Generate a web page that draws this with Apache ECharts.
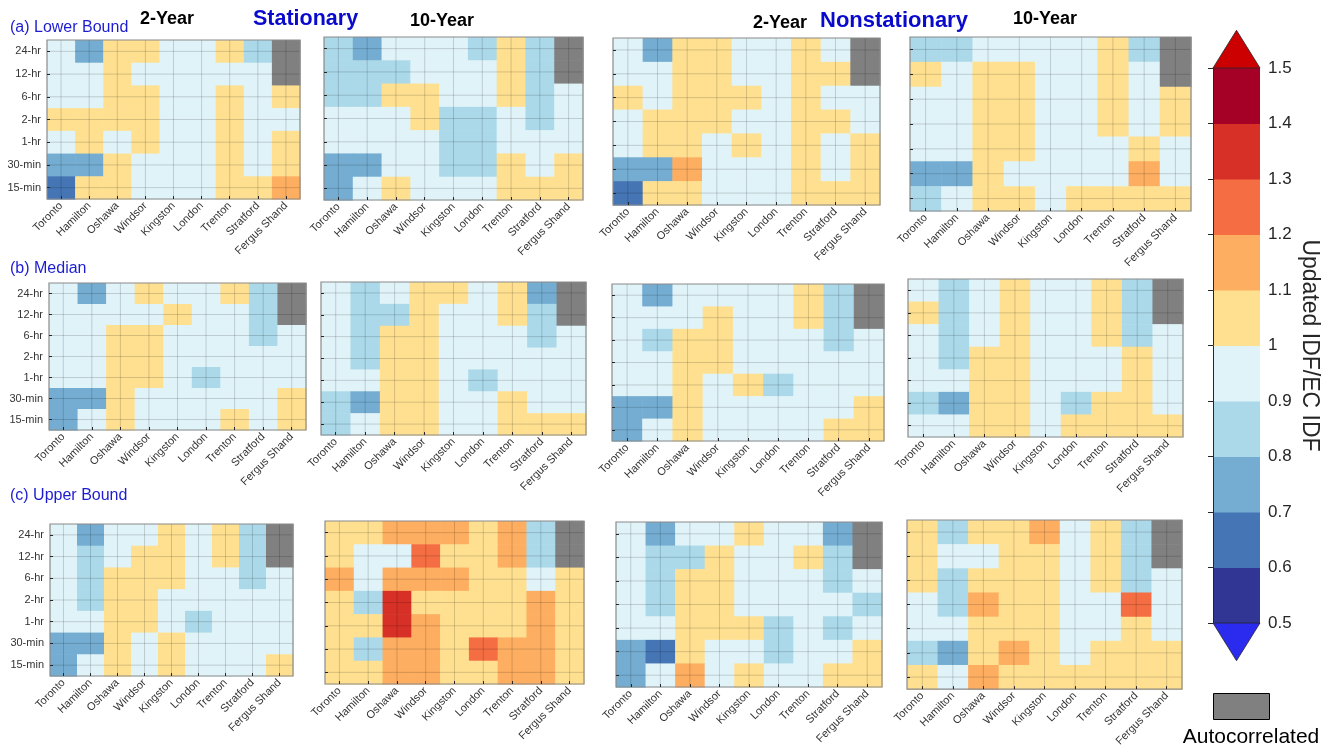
<!DOCTYPE html>
<html><head><meta charset="utf-8">
<script src="https://cdn.jsdelivr.net/npm/echarts@6/dist/echarts.min.js"></script>
<style>html,body{margin:0;padding:0;background:#fff}#c{width:1324px;height:749px}</style>
</head><body><div id="c"></div>
<script>
const stations = ['Toronto','Hamilton','Oshawa','Windsor','Kingston','London','Trenton','Stratford','Fergus Shand'];
const durations = ['24-hr','12-hr','6-hr','2-hr','1-hr','30-min','15-min'];
const colorBounds = [0.5,0.6,0.7,0.8,0.9,1.0,1.1,1.2,1.3,1.4,1.5];
const colorBins = ['#313695','#4575b4','#74add1','#abd9e9','#e0f3f8','#fee090','#fdae61','#f46d43','#d73027','#a50026'];
const autoColor = '#808080';
// rows: 24-hr ... 15-min ; columns: stations ; null = autocorrelated
const lowerStat2 = [
 [.95,.75,1.05,1.05,.95,.95,1.05,.85,null],
 [.95,.95,1.05,.95,.95,.95,.95,.95,null],
 [.95,.95,1.05,1.05,.95,.95,1.05,.95,1.05],
 [1.05,1.05,1.05,1.05,.95,.95,1.05,.95,.95],
 [.95,1.05,.95,1.05,.95,.95,1.05,.95,1.05],
 [.75,.75,1.05,.95,.95,.95,1.05,.95,1.05],
 [.65,1.05,1.05,.95,.95,.95,1.05,1.05,1.15]];
const lowerStat10 = [
 [.85,.75,.95,.95,.95,.85,1.05,.85,null],
 [.85,.85,.85,.95,.95,.95,1.05,.85,null],
 [.85,.85,1.05,1.05,.95,.95,1.05,.85,.95],
 [.95,.95,.95,1.05,.85,.85,.95,.85,.95],
 [.95,.95,.95,.95,.85,.85,.95,.95,.95],
 [.75,.75,.95,.95,.85,.85,1.05,.95,1.05],
 [.75,.95,1.05,.95,.95,.95,1.05,1.05,1.05]];
const lowerNon2 = [
 [.95,.75,1.05,1.05,.95,.95,1.05,.95,null],
 [.95,.95,1.05,1.05,.95,.95,1.05,1.05,null],
 [1.05,.95,1.05,1.05,1.05,.95,1.05,.95,.95],
 [.95,1.05,1.05,1.05,.95,.95,1.05,1.05,.95],
 [.95,1.05,1.05,.95,1.05,.95,1.05,.95,1.05],
 [.75,.75,1.15,.95,.95,.95,1.05,.95,1.05],
 [.65,1.05,1.05,.95,.95,.95,1.05,1.05,1.05]];
const lowerNon10 = [
 [.85,.85,.95,.95,.95,.95,1.05,.85,null],
 [1.05,.95,1.05,1.05,.95,.95,1.05,.95,null],
 [.95,.95,1.05,1.05,.95,.95,1.05,.95,1.05],
 [.95,.95,1.05,1.05,.95,.95,1.05,.95,1.05],
 [.95,.95,1.05,1.05,.95,.95,.95,1.05,.95],
 [.75,.75,1.05,.95,.95,.95,.95,1.15,.95],
 [.85,.95,1.05,1.05,.95,1.05,1.05,1.05,1.05]];
const medStat2 = [
 [.95,.75,.95,1.05,.95,.95,1.05,.85,null],
 [.95,.95,.95,.95,1.05,.95,.95,.85,null],
 [.95,.95,1.05,1.05,.95,.95,.95,.85,.95],
 [.95,.95,1.05,1.05,.95,.95,.95,.95,.95],
 [.95,.95,1.05,1.05,.95,.85,.95,.95,.95],
 [.75,.75,1.05,.95,.95,.95,.95,.95,1.05],
 [.75,.95,1.05,.95,.95,.95,1.05,.95,1.05]];
const medStat10 = [
 [.95,.85,.95,1.05,1.05,.95,1.05,.75,null],
 [.95,.85,.85,1.05,.95,.95,1.05,.85,null],
 [.95,.85,1.05,1.05,.95,.95,.95,.85,.95],
 [.95,.85,1.05,1.05,.95,.95,.95,.95,.95],
 [.95,.95,1.05,1.05,.95,.85,.95,.95,.95],
 [.85,.75,1.05,1.05,.95,.95,1.05,.95,.95],
 [.85,.95,1.05,1.05,.95,.95,1.05,1.05,1.05]];
const medNon2 = [
 [.95,.75,.95,.95,.95,.95,1.05,.85,null],
 [.95,.95,.95,1.05,.95,.95,1.05,.85,null],
 [.95,.85,1.05,1.05,.95,.95,.95,.85,.95],
 [.95,.95,1.05,1.05,.95,.95,.95,.95,.95],
 [.95,.95,1.05,.95,1.05,.85,.95,.95,.95],
 [.75,.75,1.05,.95,.95,.95,.95,.95,1.05],
 [.75,.95,1.05,.95,.95,.95,.95,1.05,1.05]];
const medNon10 = [
 [.95,.85,.95,1.05,.95,.95,1.05,.85,null],
 [1.05,.85,.95,1.05,.95,.95,1.05,.85,null],
 [.95,.85,.95,1.05,.95,.95,1.05,.85,.95],
 [.95,.85,1.05,1.05,.95,.95,.95,1.05,.95],
 [.95,.95,1.05,1.05,.95,.95,.95,1.05,.95],
 [.85,.75,1.05,1.05,.95,.85,1.05,1.05,.95],
 [.95,.95,1.05,1.05,.95,1.05,1.05,1.05,1.05]];
const upStat2 = [
 [.95,.75,.95,.95,1.05,.95,1.05,.85,null],
 [.95,.85,.95,1.05,1.05,.95,1.05,.85,null],
 [.95,.85,1.05,1.05,1.05,.95,.95,.85,.95],
 [.95,.85,1.05,1.05,.95,.95,.95,.95,.95],
 [.95,.95,1.05,1.05,.95,.85,.95,.95,.95],
 [.75,.75,1.05,.95,1.05,.95,.95,.95,.95],
 [.75,.95,1.05,.95,1.05,.95,.95,.95,1.05]];
const upStat10 = [
 [1.05,1.05,1.15,1.15,1.15,1.05,1.15,.85,null],
 [1.05,.95,.95,1.25,1.05,1.05,1.15,.85,null],
 [1.15,.95,1.15,1.15,1.15,1.05,1.05,.95,1.05],
 [1.05,.85,1.35,1.05,1.05,1.05,1.05,1.15,1.05],
 [1.05,1.05,1.35,1.15,1.05,1.05,1.05,1.15,1.05],
 [1.05,.85,1.15,1.15,1.05,1.25,1.15,1.15,1.05],
 [1.05,1.05,1.15,1.15,1.05,1.05,1.15,1.15,1.05]];
const upNon2 = [
 [.95,.75,.95,.95,1.05,.95,.95,.75,null],
 [.95,.85,.85,1.05,.95,.95,1.05,.85,null],
 [.95,.85,1.05,1.05,.95,.95,.95,.85,.95],
 [.95,.85,1.05,1.05,.95,.95,.95,.95,.85],
 [.95,.95,1.05,1.05,1.05,.85,.95,.85,.95],
 [.75,.65,1.05,.95,.95,.85,.95,.95,1.05],
 [.75,.95,1.15,.95,1.05,.95,.95,1.05,1.05]];
const upNon10 = [
 [1.05,.85,1.05,1.05,1.15,.95,1.05,.85,null],
 [1.05,.95,.95,1.05,1.05,.95,1.05,.85,null],
 [1.05,.85,1.05,1.05,1.05,.95,1.05,.85,.95],
 [.95,.85,1.15,1.05,1.05,.95,.95,1.25,.95],
 [.95,.95,1.05,1.05,1.05,.95,.95,1.05,.95],
 [.85,.75,1.05,1.15,1.05,.95,1.05,1.05,1.05],
 [1.05,.95,1.15,1.05,1.05,1.05,1.05,1.05,1.05]];

const panels = [lowerStat2, lowerStat10, lowerNon2, lowerNon10,
                medStat2, medStat10, medNon2, medNon10,
                upStat2, upStat10, upNon2, upNon10];
// layout: [left, top, width, height]
const boxes = [
 [47,40,253,159],[324,37,259,163],[613,38,267,167],[910,37,281,174],
 [49,283,257,147],[321,282,265,153],[612,284,272,157],[908,279,275,158],
 [50,524,243,152],[325,521,259,163],[616,522,266,165],[907,520,275,171]];

const FONT = 'Liberation Sans, Arial, Helvetica, sans-serif';
function colorFor(v){
  if (v === null || v === undefined) return autoColor;
  for (let i = 0; i < colorBins.length; i++) {
    if (v >= colorBounds[i] && v < colorBounds[i+1]) return colorBins[i];
  }
  return v < colorBounds[0] ? colorBins[0] : colorBins[colorBins.length-1];
}

const grids = [], xAxes = [], yAxes = [], series = [];
panels.forEach((m, p) => {
  const b = boxes[p];
  grids.push({left:b[0], top:b[1], width:b[2], height:b[3], containLabel:false});
  xAxes.push({gridIndex:p, type:'category', data:stations, z:5,
    axisLine:{show:false}, splitLine:{show:false},
    axisTick:{show:true, alignWithLabel:true, inside:true, length:3, lineStyle:{color:'#262626'}},
    axisLabel:{rotate:45, fontSize:11, color:'#333', fontFamily:FONT, margin:5, interval:0}});
  yAxes.push({gridIndex:p, type:'category', data:durations, inverse:true, z:5,
    axisLine:{show:false}, splitLine:{show:false},
    axisTick:{show:true, alignWithLabel:true, inside:true, length:3, lineStyle:{color:'#262626'}},
    axisLabel:{show: p % 4 === 0, fontSize:11, color:'#333', fontFamily:FONT, margin:6, interval:0}});
  const cells = [];
  for (let r = 0; r < durations.length; r++)
    for (let c = 0; c < stations.length; c++) cells.push([c, r]);
  series.push({type:'custom', xAxisIndex:p, yAxisIndex:p, z:2, data:cells,
    renderItem: (params, api) => {
      const xi = api.value(0), yi = api.value(1);
      const c = api.coord([xi, yi]);
      const s = api.size([1, 1]);
      return {type:'rect', shape:{x:c[0]-s[0]/2, y:c[1]-s[1]/2, width:s[0]+0.6, height:s[1]+0.6},
        style:{fill:colorFor(m[yi][xi])}};
    }});
  const lines = [];
  stations.forEach((s, i) => lines.push([i, 0, 0]));
  durations.forEach((d, j) => lines.push([0, j, 1]));
  lines.push([0, 0, 2]);
  series.push({type:'custom', xAxisIndex:p, yAxisIndex:p, z:3, silent:true, data:lines,
    renderItem: (params, api) => {
      const cs = params.coordSys;
      const c = api.coord([api.value(0), api.value(1)]);
      const k = api.value(2);
      if (k === 0) return {type:'line', shape:{x1:c[0], y1:cs.y, x2:c[0], y2:cs.y+cs.height},
        style:{stroke:'rgba(0,0,0,0.16)', lineWidth:1}};
      if (k === 1) return {type:'line', shape:{x1:cs.x, y1:c[1], x2:cs.x+cs.width, y2:c[1]},
        style:{stroke:'rgba(0,0,0,0.16)', lineWidth:1}};
      return {type:'rect', shape:{x:cs.x, y:cs.y, width:cs.width, height:cs.height},
        style:{fill:'none', stroke:'#8a8a8a', lineWidth:1.2}};
    }});
});

// colorbar
const cb = grids.length;
grids.push({left:1213, top:68, width:47, height:555});
xAxes.push({gridIndex:cb, type:'value', min:0, max:1, show:false});
yAxes.push({gridIndex:cb, type:'value', min:0.5, max:1.5, interval:0.1, position:'right', z:5,
  axisLine:{show:true, lineStyle:{color:'#262626'}},
  axisTick:{show:true, inside:true, length:5, lineStyle:{color:'#262626'}},
  splitLine:{show:false},
  axisLabel:{fontSize:17, color:'#262626', fontFamily:FONT, margin:8,
    formatter: v => String(parseFloat(Number(v).toFixed(1)))},
  name:'Updated IDF/EC IDF', nameLocation:'middle', nameGap:38, nameRotate:-90,
  nameTextStyle:{fontSize:23, color:'#262626', fontFamily:FONT}});
series.push({type:'custom', xAxisIndex:cb, yAxisIndex:cb, z:2,
  data: colorBins.map((c, i) => [i, colorBounds[i], colorBounds[i+1]]),
  renderItem: (params, api) => {
    const i = api.value(0);
    const p0 = api.coord([0, api.value(1)]);
    const p1 = api.coord([1, api.value(2)]);
    return {type:'rect', shape:{x:p0[0], y:p1[1], width:p1[0]-p0[0], height:p0[1]-p1[1]+0.5},
      style:{fill:colorBins[i]}};
  }});
// end triangles of the colorbar
series.push({type:'custom', xAxisIndex:cb, yAxisIndex:cb, z:2, clip:false,
  data:[[colorBounds[colorBounds.length-1], 1], [colorBounds[0], -1]],
  renderItem: (params, api) => {
    const v = api.value(0), dir = api.value(1);
    const a = api.coord([0, v]), b = api.coord([1, v]), t = api.coord([0.5, v + dir*0.068]);
    return {type:'polygon', shape:{points:[a, b, t]},
      style:{fill: dir > 0 ? '#cc0000' : '#2b2bef', stroke:'#262626', lineWidth:0.8}};
  }});

const titleStyle = (size, color, weight) => ({fontSize:size, color:color, fontWeight:weight, fontFamily:FONT});
const titles = [
  {text:'(a) Lower Bound', left:5, top:15, textStyle:titleStyle(16,'#1c1cd2','normal')},
  {text:'(b) Median', left:5, top:256, textStyle:titleStyle(16,'#1c1cd2','normal')},
  {text:'(c) Upper Bound', left:5, top:483, textStyle:titleStyle(16,'#1c1cd2','normal')},
  {text:'2-Year', left:135, top:5, textStyle:titleStyle(18,'#000','bold')},
  {text:'Stationary', left:248, top:3, textStyle:titleStyle(21.5,'#0a0acd','bold')},
  {text:'10-Year', left:405, top:7, textStyle:titleStyle(18,'#000','bold')},
  {text:'2-Year', left:748, top:9, textStyle:titleStyle(18,'#000','bold')},
  {text:'Nonstationary', left:815, top:5, textStyle:titleStyle(22,'#0a0acd','bold')},
  {text:'10-Year', left:1008, top:5, textStyle:titleStyle(18,'#000','bold')}
];

const chart = echarts.init(document.getElementById('c'), null, {renderer:'canvas'});
chart.setOption({
  backgroundColor:'#fff',
  animation:false,
  title: titles,
  grid: grids, xAxis: xAxes, yAxis: yAxes, series: series,
  graphic: [
    {type:'rect', left:1213, top:693, shape:{width:56, height:26}, style:{fill:autoColor, stroke:'#000', lineWidth:1}},
    {type:'text', x:1251, y:737, style:{text:'Autocorrelated', fontSize:21, fontFamily:FONT, fill:'#000',
      align:'center', verticalAlign:'middle', textAlign:'center', textVerticalAlign:'middle'}}
  ]
});
</script></body></html>
